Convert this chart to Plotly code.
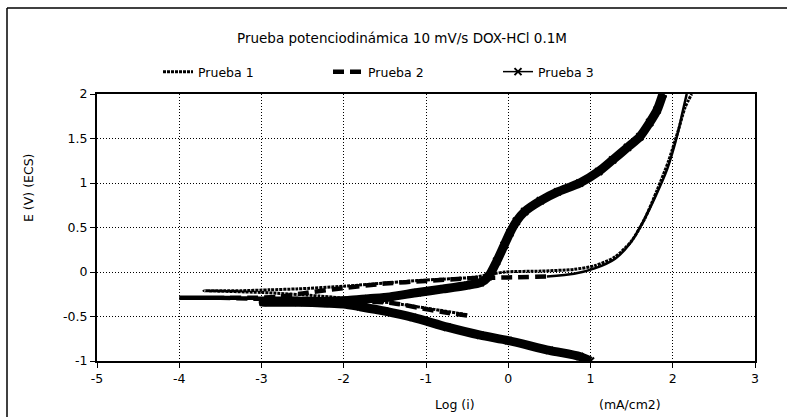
import plotly.graph_objects as go

# ---------------- data ----------------
# Prueba 1: scan from cathodic end (-0.5 V) up to 2 V
p1_x = [-0.5, -0.9, -1.4, -1.8, -2.3, -3.0, -3.7,
        -3.45, -3.24, -2.9, -2.57, -2.0, -1.44, -1.0, -0.43,
        -0.04, 0.4, 0.8, 1.05, 1.3, 1.5, 1.66, 1.81, 1.95, 2.07, 2.15, 2.23]
p1_y = [-0.48, -0.42, -0.35, -0.31, -0.27, -0.23, -0.21,
        -0.21, -0.21, -0.2, -0.19, -0.16, -0.12, -0.09, -0.06,
        0.0, 0.01, 0.03, 0.07, 0.17, 0.35, 0.6, 0.92, 1.25, 1.6, 1.85, 2.0]

# Prueba 2
p2_x = [-0.5, -0.8, -1.1, -1.4, -2.0, -2.6, -3.1, -3.5, -4.0,
        -3.7, -3.4, -3.1, -2.8, -2.5, -2.0, -1.5, -1.0, -0.45,
        0.05, 0.47,
        0.8, 1.05, 1.3, 1.48, 1.63, 1.78, 1.93, 2.05, 2.12, 2.17]
p2_y = [-0.49, -0.45, -0.4, -0.35, -0.32, -0.3, -0.3, -0.29, -0.29,
        -0.29, -0.29, -0.29, -0.28, -0.24, -0.18, -0.13, -0.1, -0.07,
        -0.06, -0.05,
        -0.02, 0.04, 0.15, 0.32, 0.55, 0.83, 1.15, 1.52, 1.8, 2.0]
p2_split = 20  # dashes visible in the sparse part, thin line afterwards

# Prueba 3: scan from -1 V up to 2 V
p3_x = [1.0, 0.87, 0.5, 0.0, -0.34, -0.74, -1.16, -1.5, -1.8, -2.0, -2.2, -2.55, -2.98,
        -2.6, -2.2, -1.95, -1.7, -1.44, -1.1, -0.79, -0.5, -0.34, -0.24, -0.14, -0.05,
        0.02, 0.1, 0.2, 0.39, 0.6, 0.87, 1.1, 1.27, 1.45, 1.6, 1.72, 1.81, 1.88]
p3_y = [-1.0, -0.95, -0.88, -0.77, -0.71, -0.62, -0.51, -0.44, -0.39, -0.36, -0.35, -0.34, -0.34,
        -0.33, -0.33, -0.32, -0.3, -0.28, -0.23, -0.19, -0.15, -0.12, -0.05, 0.12, 0.3,
        0.44, 0.57, 0.68, 0.8, 0.9, 1.0, 1.13, 1.26, 1.4, 1.52, 1.68, 1.82, 2.0]

x_ticks = [-5, -4, -3, -2, -1, 0, 1, 2, 3]
y_ticks = [-1, -0.5, 0, 0.5, 1, 1.5, 2]
y_tick_text = ["-1", "-0.5", "0", "0.5", "1", "1.5", "2"]
x_tick_text = ["-5", "-4", "-3", "-2", "-1", "0", "1", "2", "3"]

title_text = "Prueba potenciodinámica 10 mV/s DOX-HCl 0.1M"
names = ["Prueba 1", "Prueba 2", "Prueba 3"]

FONT = "DejaVu Sans"

fig = go.Figure()

# Prueba 3 thick body (dense markers in the original)
fig.add_trace(go.Scatter(x=p3_x, y=p3_y, mode="lines", showlegend=False,
                         line=dict(color="black", width=9, shape="spline", smoothing=0.7),
                         hoverinfo="skip"))
# Prueba 1
fig.add_trace(go.Scatter(x=p1_x, y=p1_y, mode="lines", name=names[0],
                         line=dict(color="black", width=3, dash="3px,1px",
                                   shape="spline", smoothing=0.7)))
# Prueba 2 dashed part
fig.add_trace(go.Scatter(x=p2_x[:p2_split], y=p2_y[:p2_split], mode="lines", name=names[1],
                         line=dict(color="black", width=4.5, dash="11px,6px",
                                   shape="spline", smoothing=0.7)))
# Prueba 2 dense part
fig.add_trace(go.Scatter(x=p2_x[p2_split - 1:], y=p2_y[p2_split - 1:], mode="lines",
                         showlegend=False,
                         line=dict(color="black", width=2.5, shape="spline", smoothing=0.7)))
# Prueba 3 legend / markers
fig.add_trace(go.Scatter(x=p3_x, y=p3_y, mode="lines+markers", name=names[2],
                         line=dict(color="black", width=1.5, shape="spline", smoothing=0.7),
                         marker=dict(symbol="x-thin", size=7, color="black",
                                     line=dict(color="black", width=2))))

axis_common = dict(showline=True, linecolor="black", linewidth=2, mirror=True,
                   showgrid=True, gridcolor="black", gridwidth=1, griddash="1px,2px",
                   zeroline=False, ticks="outside", ticklen=5, tickcolor="black",
                   tickfont=dict(family=FONT, size=12.5, color="black"))

fig.update_xaxes(range=[-5, 3], tickvals=x_ticks, ticktext=x_tick_text, **axis_common)
fig.update_yaxes(range=[-1, 2], tickvals=y_ticks, ticktext=y_tick_text, **axis_common)

fig.update_layout(
    width=787, height=417,
    margin=dict(l=97, r=32, t=94, b=56),
    paper_bgcolor="white", plot_bgcolor="white",
    font=dict(family=FONT, size=12, color="black"),
    title=dict(text=title_text, x=(402) / 787, xanchor="center", y=1 - 38 / 417, yanchor="middle",
               font=dict(family=FONT, size=13.5, color="black")),
    legend=dict(orientation="h", x=(158 - 97) / 658, y=(361 - 72) / 267, xanchor="left",
                yanchor="middle", entrywidth=125, entrywidthmode="pixels",
                font=dict(family=FONT, size=12.5, color="black"), bgcolor="rgba(0,0,0,0)"),
    annotations=[
        dict(text="Log (i)", xref="x", yref="paper", x=-0.65, y=(361 - 404) / 267,
             showarrow=False, xanchor="center", yanchor="middle",
             font=dict(family=FONT, size=12.5, color="black")),
        dict(text="(mA/cm2)", xref="x", yref="paper", x=1.48, y=(361 - 404) / 267,
             showarrow=False, xanchor="center", yanchor="middle",
             font=dict(family=FONT, size=12.5, color="black")),
        dict(text="E (V) (ECS)", xref="paper", yref="paper", x=(28 - 97) / 658,
             y=(361 - 188) / 267, showarrow=False, textangle=-90, xanchor="center",
             yanchor="middle", font=dict(family=FONT, size=12.5, color="black")),
    ],
    shapes=[
        dict(type="line", xref="paper", yref="paper", x0=(7 - 97) / 658, x1=(787 - 97) / 658,
             y0=(361 - 8) / 267, y1=(361 - 8) / 267, line=dict(color="black", width=1.5)),
        dict(type="line", xref="paper", yref="paper", x0=(7 - 97) / 658, x1=(7 - 97) / 658,
             y0=(361 - 8) / 267, y1=(361 - 417) / 267, line=dict(color="black", width=1.5)),
    ],
)

fig.write_html("out.html")
